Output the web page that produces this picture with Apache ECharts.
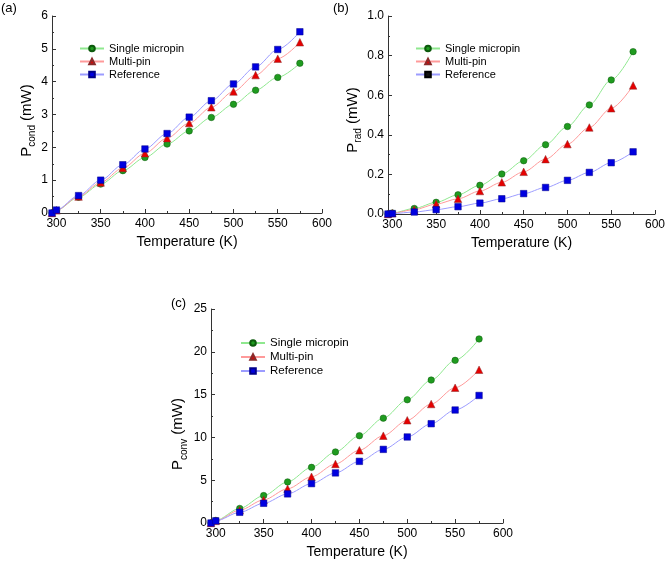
<!DOCTYPE html>
<html>
<head>
<meta charset="utf-8">
<style>html,body{margin:0;padding:0;background:#fff}#c{width:668px;height:564px}</style>
<script src="https://cdn.jsdelivr.net/npm/echarts@6/dist/echarts.min.js"></script>
</head>
<body>
<div id="c"></div>
<script>
const temps = [295, 300, 325, 350, 375, 400, 425, 450, 475, 500, 525, 550, 575];
const seriesNames = ['Single micropin', 'Multi-pin', 'Reference'];

const condSingle = [0, 0.08, 0.48, 0.88, 1.29, 1.69, 2.10, 2.50, 2.91, 3.31, 3.74, 4.13, 4.56];
const condMulti  = [0, 0.08, 0.50, 0.93, 1.37, 1.82, 2.28, 2.74, 3.22, 3.70, 4.20, 4.70, 5.20];
const condRef    = [0, 0.09, 0.53, 1.00, 1.47, 1.95, 2.42, 2.92, 3.42, 3.93, 4.45, 4.98, 5.52];

const radSingle = [0, 0.005, 0.028, 0.059, 0.097, 0.145, 0.202, 0.269, 0.350, 0.442, 0.551, 0.677, 0.820];
const radMulti  = [0, 0.004, 0.022, 0.050, 0.077, 0.116, 0.160, 0.213, 0.277, 0.353, 0.437, 0.534, 0.649];
const radRef    = [0, 0.002, 0.010, 0.022, 0.037, 0.055, 0.077, 0.103, 0.134, 0.170, 0.210, 0.259, 0.314];

const convSingle = [0, 0.3, 1.7, 3.2, 4.8, 6.5, 8.3, 10.2, 12.25, 14.4, 16.7, 19.0, 21.5];
const convMulti  = [0, 0.25, 1.5, 2.7, 4.0, 5.4, 6.9, 8.5, 10.2, 12.0, 13.9, 15.8, 17.9];
const convRef    = [0, 0.25, 1.25, 2.3, 3.4, 4.6, 5.85, 7.2, 8.6, 10.05, 11.6, 13.2, 14.9];

const xMajorTicks = [300, 350, 400, 450, 500, 550, 600];
const xMinorTicks = [325, 375, 425, 475, 525, 575];
const panelLabels = ['(a)', '(b)', '(c)'];
const yNames = [['P', 'cond'], ['P', 'rad'], ['P', 'conv']];

const FONT = 'Liberation Sans, Arial, sans-serif';
const AXC = '#333';

const styles = [
  {line: '#8fe88f', fill: '#1f9b1f', border: '#0c5a0c', symbol: 'circle', size: 6.5},
  {line: '#ff9a9a', fill: '#e60000', border: '#8a2a2a', symbol: 'triangle', size: 7.5},
  {line: '#9c9cff', fill: '#0000e0', border: '#00008a', symbol: 'rect', size: 6.5}
];

const panels = [
  {grid: {left: 52, top: 16, width: 270, height: 197}, ymax: 6, yint: 1, ydec: 0, data: [condSingle, condMulti, condRef],
   legend: {left: 74, top: 37}, fs: 11, lh: 13, nameGap: 14, namePad: 12, title: {left: 1, top: 2}},
  {grid: {left: 388, top: 16, width: 270, height: 198}, ymax: 1, yint: 0.2, ydec: 1, data: [radSingle, radMulti, radRef],
   legend: {left: 410, top: 37}, fs: 11, lh: 13, nameGap: 24, namePad: 10, title: {left: 333, top: 2}},
  {grid: {left: 211, top: 309, width: 292, height: 214}, ymax: 25, yint: 5, ydec: 0, data: [convSingle, convMulti, convRef],
   legend: {left: 235, top: 331}, fs: 11.5, lh: 14, nameGap: 22, namePad: 36, title: {left: 171, top: 297}}
];

const option = {
  animation: false,
  textStyle: {fontFamily: FONT, color: '#000'},
  grid: [], xAxis: [], yAxis: [], series: [], legend: [], graphic: []
};

panels.forEach((p, i) => {
  option.grid.push(Object.assign({containLabel: false}, p.grid));
  option.xAxis.push({
    type: 'value', gridIndex: i, min: 295, max: 600, position: 'bottom',
    axisLine: {show: true, onZero: false, lineStyle: {color: AXC, width: 1}},
    axisTick: {show: true, inside: true, length: 4, customValues: xMajorTicks, lineStyle: {color: AXC}},
    axisLabel: {customValues: xMajorTicks, fontSize: 12, color: '#000', margin: 5, fontFamily: FONT},
    splitLine: {show: false},
    name: 'Temperature (K)', nameLocation: 'middle', nameGap: 22,
    nameTextStyle: {fontSize: 14, color: '#000', fontFamily: FONT}
  });
  option.xAxis.push({
    type: 'value', gridIndex: i, min: 295, max: 600, position: 'bottom',
    axisLine: {show: false, onZero: false},
    axisTick: {show: true, inside: true, length: 2, customValues: xMinorTicks, lineStyle: {color: AXC}},
    axisLabel: {show: false}, splitLine: {show: false}
  });
  option.yAxis.push({
    type: 'value', gridIndex: i, min: 0, max: p.ymax, interval: p.yint,
    axisLine: {show: true, lineStyle: {color: AXC, width: 1}},
    axisTick: {show: true, inside: true, length: 4, lineStyle: {color: AXC}},
    minorTick: {show: true, splitNumber: 2, length: 2, lineStyle: {color: AXC}},
    splitLine: {show: false},
    axisLabel: {fontSize: 12, color: '#000', margin: 4, fontFamily: FONT,
      formatter: v => v.toFixed(p.ydec)},
    name: '{p|' + yNames[i][0] + '}{s|' + yNames[i][1] + '}{p| (mW)}',
    nameLocation: 'middle', nameGap: p.nameGap, nameRotate: 90,
    nameTextStyle: {
      fontFamily: FONT, color: '#000', padding: [0, p.namePad, 0, 0],
      rich: {
        p: {fontSize: 15, lineHeight: 22, verticalAlign: 'middle', fontFamily: FONT, color: '#000'},
        s: {fontSize: 10, lineHeight: 12, verticalAlign: 'bottom', fontFamily: FONT, color: '#000'}
      }
    }
  });
  p.data.forEach((vals, k) => {
    const st = styles[k];
    option.series.push({
      name: seriesNames[k], type: 'line', xAxisIndex: 2 * i, yAxisIndex: i,
      data: temps.map((t, j) => [t, vals[j]]),
      smooth: 0.3, smoothMonotone: 'x',
      symbol: st.symbol, symbolSize: st.size, showSymbol: true, clip: false,
      lineStyle: {color: st.line, width: 1},
      itemStyle: {color: st.fill, borderColor: st.border, borderWidth: 0.5},
      z: 2 + k
    });
  });
  option.legend.push({
    orient: 'vertical', left: p.legend.left, top: p.legend.top,
    itemWidth: 24, itemHeight: 7, itemGap: 0, selectedMode: false,
    textStyle: {fontSize: p.fs, lineHeight: p.lh, color: '#000', fontFamily: FONT},
    data: seriesNames.map((n, k) => (i === 1 && k === 2)
      ? {name: n, itemStyle: {color: '#111', borderColor: '#000'}}
      : {name: n})
  });
  option.graphic.push({
    type: 'text', left: p.title.left, top: p.title.top,
    style: {text: panelLabels[i], fontSize: 13, fill: '#000', fontFamily: FONT}
  });
});

const chart = echarts.init(document.getElementById('c'), null, {renderer: 'canvas'});
chart.setOption(option);
</script>
</body>
</html>
